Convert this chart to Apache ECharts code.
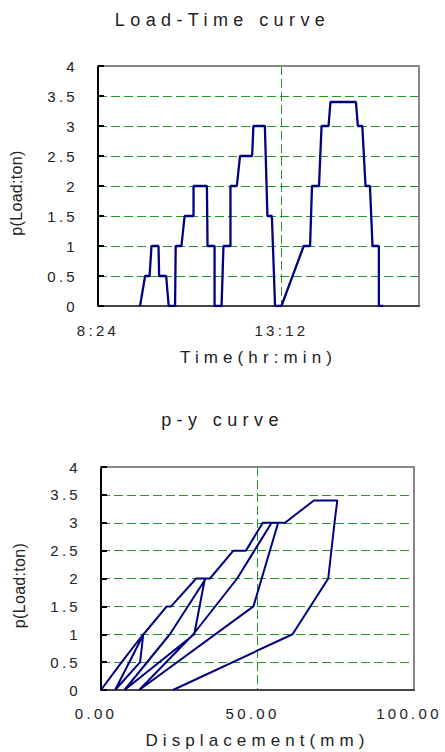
<!DOCTYPE html>
<html>
<head>
<meta charset="utf-8">
<title>Load-Time / p-y curve</title>
<script src="https://cdn.jsdelivr.net/npm/echarts@6.0.0/dist/echarts.min.js"></script>
<style>
    body { margin: 0; background: #fff; }
    #main { width: 445px; height: 752px; }
    /* the source chart uses widely spaced glyphs */
    #main svg text { letter-spacing: 0.3em; }
    #main svg text[style*="15px"] { letter-spacing: 0.22em; }
    #main svg text[style*="16px"] { letter-spacing: 0.02em; }
</style>
</head>
<body>
<div id="main"></div>
<script>
// Load-Time curve: clock time and load (ton)
var ltTime = [
    '9:30', '9:38', '9:45', '9:48', '9:59', '10:00', '10:11', '10:15',
    '10:25', '10:26', '10:35', '10:40', '10:54', '10:54', '11:15', '11:16',
    '11:27', '11:27', '11:38', '11:41', '11:52', '11:52', '12:02', '12:07',
    '12:26', '12:28', '12:46', '12:50', '12:57', '13:02', '13:12',
    '13:47', '13:57', '14:00', '14:11', '14:15', '14:26', '14:29', '15:09',
    '15:12', '15:19', '15:24', '15:31', '15:35', '15:45', '15:45', '15:52'
];
var ltLoad = [
    0, 0.5, 0.5, 1, 1, 0.5, 0.5, 0,
    0, 1, 1, 1.5, 1.5, 2, 2, 1,
    1, 0, 0, 1, 1, 2, 2, 2.5,
    2.5, 3, 3, 1.5, 1.5, 0, 0,
    1, 1, 2, 2, 3, 3, 3.4, 3.4,
    3, 3, 2, 2, 1, 1, 0, 0
];

// p-y curve: displacement (mm) and load (ton)
var pyDisp = [
    0, 6.6, 13.5, 12.5, 4.5,
    13.6, 21.0, 22.4, 30.4, 33.2, 29.8, 7.5,
    22.0, 33.5, 34.8, 42.3, 46.3, 51.7, 56.6, 48.7, 12.2,
    29.5, 43.5, 54.5, 58.8, 68.0, 75.5, 74.6, 72.6, 61.2, 23.0
];
var pyLoad = [
    0, 0.5, 1.0, 0.5, 0,
    1.0, 1.5, 1.5, 2.0, 2.0, 1.0, 0,
    1.0, 2.0, 2.0, 2.5, 2.5, 3.0, 3.0, 1.5, 0,
    1.0, 2.0, 3.0, 3.0, 3.4, 3.4, 3.0, 2.0, 1.0, 0
];

var timeTicks = ['8:24', '13:12'];
var dispTicks = [0, 50, 100];
var loadTicks = [0, 4, 0.5];   // min, max, step

var TEXT = '#222';
var GRID = '#229622';
var LINE = '#000080';
var FONT = 'Liberation Sans';

function toMin(s) {
    var p = s.split(':');
    return parseInt(p[0], 10) * 60 + parseInt(p[1], 10);
}

function fmtTime(v) {
    var m = Math.round(v) % 60;
    return Math.floor(v / 60) + ':' + (m < 10 ? '0' + m : m);
}

function pairs(xs, ys) {
    var out = [];
    for (var i = 0; i < xs.length; i++) out.push([xs[i], ys[i]]);
    return out;
}

var tMin = toMin(timeTicks[0]);
var tStep = toMin(timeTicks[1]) - tMin;
var tMax = tMin + 504;   // right edge of the plot, 16:48

var gridLine = {
    show: true, showMinLine: false, showMaxLine: false,
    lineStyle: {color: GRID, type: [9, 4], width: 1}
};

function borderAxis(grid, pos, min, max) {
    return {
        gridIndex: grid, type: 'value', position: pos, min: min, max: max,
        axisLine: {show: true, onZero: false, lineStyle: {color: '#888', width: 2}},
        axisTick: {show: false}, axisLabel: {show: false}, splitLine: {show: false}
    };
}

function loadAxis(grid) {
    return {
        gridIndex: grid, type: 'value',
        min: loadTicks[0], max: loadTicks[1], interval: loadTicks[2],
        name: 'p(Load:ton)', nameLocation: 'middle', nameGap: 74,
        nameTextStyle: {color: TEXT, fontSize: 16, fontFamily: FONT, padding: [0, 14, 0, 0]},
        axisLine: {show: true, onZero: false, lineStyle: {color: '#000', width: 2}},
        axisTick: {show: true, inside: true, length: 6, lineStyle: {color: '#000', width: 2}},
        axisLabel: {color: TEXT, fontSize: 15, fontFamily: FONT, margin: 20},
        splitLine: gridLine
    };
}

var chart = echarts.init(document.getElementById('main'), null, {renderer: 'svg'});

chart.setOption({
    backgroundColor: '#fff',
    animation: false,
    title: [{
        text: 'Load-Time curve', left: 'center', top: 6,
        textStyle: {color: TEXT, fontSize: 18, fontWeight: 'normal', fontFamily: FONT}
    }, {
        text: 'p-y curve', left: 'center', top: 406,
        textStyle: {color: TEXT, fontSize: 18, fontWeight: 'normal', fontFamily: FONT}
    }],
    grid: [
        {left: 98, top: 66, width: 321, height: 240, containLabel: false, outerBoundsMode: 'none'},
        {left: 101, top: 467, width: 313, height: 223, containLabel: false, outerBoundsMode: 'none'}
    ],
    xAxis: [{
        gridIndex: 0, type: 'value', min: tMin, max: tMax, interval: tStep,
        name: 'Time(hr:min)', nameLocation: 'middle', nameGap: 43,
        nameTextStyle: {color: TEXT, fontSize: 17, fontFamily: FONT},
        axisLine: {show: true, lineStyle: {color: '#444', width: 2}},
        axisTick: {show: false},
        axisLabel: {color: TEXT, fontSize: 15, fontFamily: FONT, margin: 17,
            showMaxLabel: false, formatter: fmtTime},
        splitLine: gridLine
    },
    borderAxis(0, 'top', tMin, tMax),
    {
        gridIndex: 1, type: 'value', min: dispTicks[0], max: dispTicks[2],
        interval: dispTicks[1] - dispTicks[0],
        name: 'Displacement(mm)', nameLocation: 'middle', nameGap: 42,
        nameTextStyle: {color: TEXT, fontSize: 17, fontFamily: FONT},
        axisLine: {show: true, lineStyle: {color: '#444', width: 2}},
        axisTick: {show: false},
        axisLabel: {color: TEXT, fontSize: 15, fontFamily: FONT, margin: 16,
            padding: [0, 10, 0, 0],
            formatter: function (v) { return v.toFixed(2); }},
        splitLine: gridLine
    },
    borderAxis(1, 'top', dispTicks[0], dispTicks[2])],
    yAxis: [
        loadAxis(0),
        borderAxis(0, 'right', loadTicks[0], loadTicks[1]),
        loadAxis(1),
        borderAxis(1, 'right', loadTicks[0], loadTicks[1])
    ],
    series: [{
        name: 'Load-Time', type: 'line', xAxisIndex: 0, yAxisIndex: 0,
        symbol: 'none', lineStyle: {color: LINE, width: 2.3},
        data: pairs(ltTime.map(toMin), ltLoad)
    }, {
        name: 'p-y', type: 'line', xAxisIndex: 2, yAxisIndex: 2,
        symbol: 'none', lineStyle: {color: LINE, width: 2},
        data: pairs(pyDisp, pyLoad)
    }]
});
</script>
</body>
</html>
